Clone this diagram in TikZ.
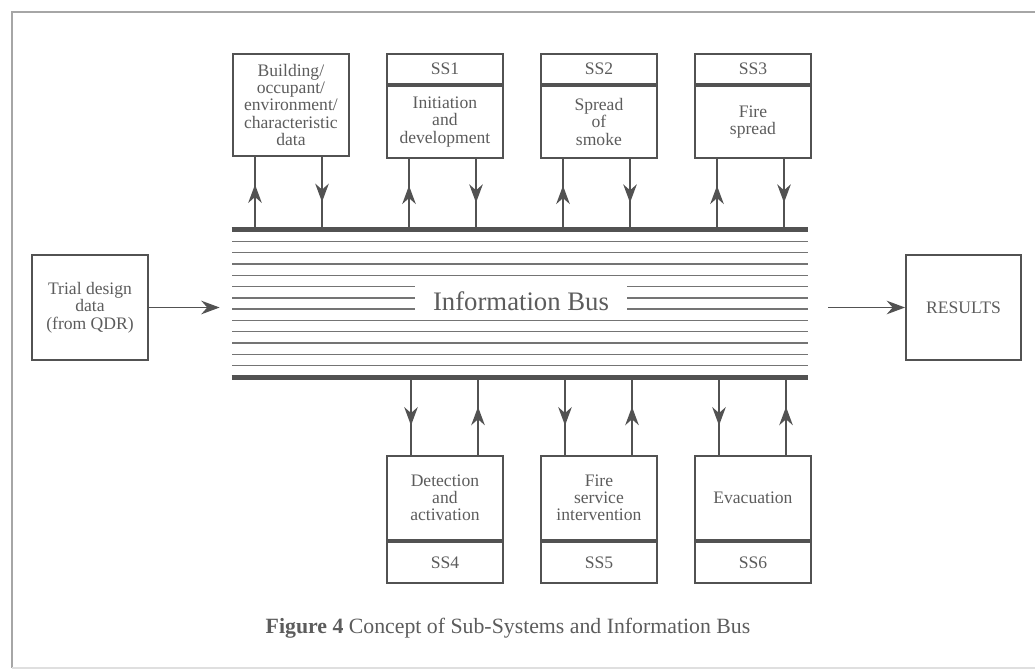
\documentclass[tikz,border=0pt]{standalone}
\usepackage{fontspec}
\setmainfont{Liberation Serif}
\usepackage{xcolor}
\usetikzlibrary{positioning,arrows.meta,decorations.markings}
\definecolor{ink}{gray}{0.32}
\definecolor{inktext}{gray}{0.36}
\begin{document}
\begin{tikzpicture}[x=0.025cm,y=-0.025cm,
 box/.style={draw=ink,line width=1.3pt,minimum width=2.9cm,inner sep=1pt,align=center,
  text=inktext,font=\fontsize{12.5}{12.3}\selectfont},
 bar/.style={draw=ink,line width=3.6pt},
 rail/.style={draw=ink!80,line width=1pt},
 flow/.style={draw=ink,line width=1pt,postaction={decorate},
  decoration={markings,mark=at position 0.62 with {\arrow{Stealth[length=4.6mm,width=3.4mm]}}}},
 arr/.style={draw=ink,line width=1pt,-{Stealth[length=4.6mm,width=3.4mm]}}]
\useasboundingbox (0,0) rectangle (1035,671);
\draw[gray!70,line width=1pt] (1035,12) -- (12,12) -- (12,668);
\draw[gray!25,line width=1pt] (12,668) -- (1035,668);
% the bus
\node[minimum width=14.4cm,minimum height=3.675cm,inner sep=0pt] (bus) at (520,303.5) {};
\draw[bar] (bus.north west) -- (bus.north east);
\draw[bar] (bus.south west) -- (bus.south east);
\foreach \k in {1,...,12}
 \draw[rail] (232,{230+\k*11.31}) -- (808,{230+\k*11.31});
\node[fill=white,minimum width=5.3cm,minimum height=0.8cm,text=inktext,
 font=\fontsize{19}{20}\selectfont] (lbl) at (521,301) {Information Bus};
% upper row
\node[box,minimum height=2.55cm,anchor=north west] (bbld) at (232,53)
 {Building/\\occupant/\\environment/\\characteristic\\data};
\foreach \n/\x/\t/\b in {ss1/386/SS1/{Initiation\\and\\development},
 ss2/540/SS2/{Spread\\of\\smoke},ss3/694/SS3/{Fire\\spread}}{
 \node[box,minimum height=0.75cm,anchor=north west] (h\n) at (\x,53) {\t};
 \node[box,minimum height=1.8cm,below=0pt of h\n] (b\n) {\b};
}
\foreach \n in {bld,ss1,ss2,ss3}{
 \coordinate (u\n) at ([xshift=0.575cm]b\n.south west);
 \coordinate (d\n) at ([xshift=2.25cm]b\n.south west);
 \draw[flow] (u\n |- bus.north) -- (u\n);
 \draw[flow] (d\n) -- (d\n |- bus.north);
}
% lower row
\foreach \n/\x/\t/\b in {ss4/386/SS4/{Detection\\and\\activation},
 ss5/540/SS5/{Fire\\service\\intervention},ss6/694/SS6/{Evacuation}}{
 \node[box,minimum height=2.1cm,anchor=north west] (b\n) at (\x,455) {\b};
 \node[box,minimum height=1.025cm,below=0pt of b\n] (f\n) {\t};
 \coordinate (d\n) at ([xshift=0.625cm]b\n.north west);
 \coordinate (u\n) at ([xshift=2.3cm]b\n.north west);
 \draw[flow] (d\n |- bus.south) -- (d\n);
 \draw[flow] (u\n) -- (u\n |- bus.south);
}
% input and output
\node[box,minimum height=2.625cm] (trial) at (90,307.5) {Trial design\\data\\(from QDR)};
\node[box,minimum width=2.875cm,minimum height=2.625cm] (res) at (963.5,307.5) {RESULTS};
\draw[arr,shorten >=0.3cm] (trial.east) -- (trial.east -| bus.west);
\draw[arr,shorten <=0.5cm] (res.west -| bus.east) -- (res.west);
\node[text=inktext,font=\fontsize{15.5}{17}\selectfont] (cap) at (508,628)
 {\textbf{Figure 4} Concept of Sub-Systems and Information Bus};
\end{tikzpicture}
\end{document}
